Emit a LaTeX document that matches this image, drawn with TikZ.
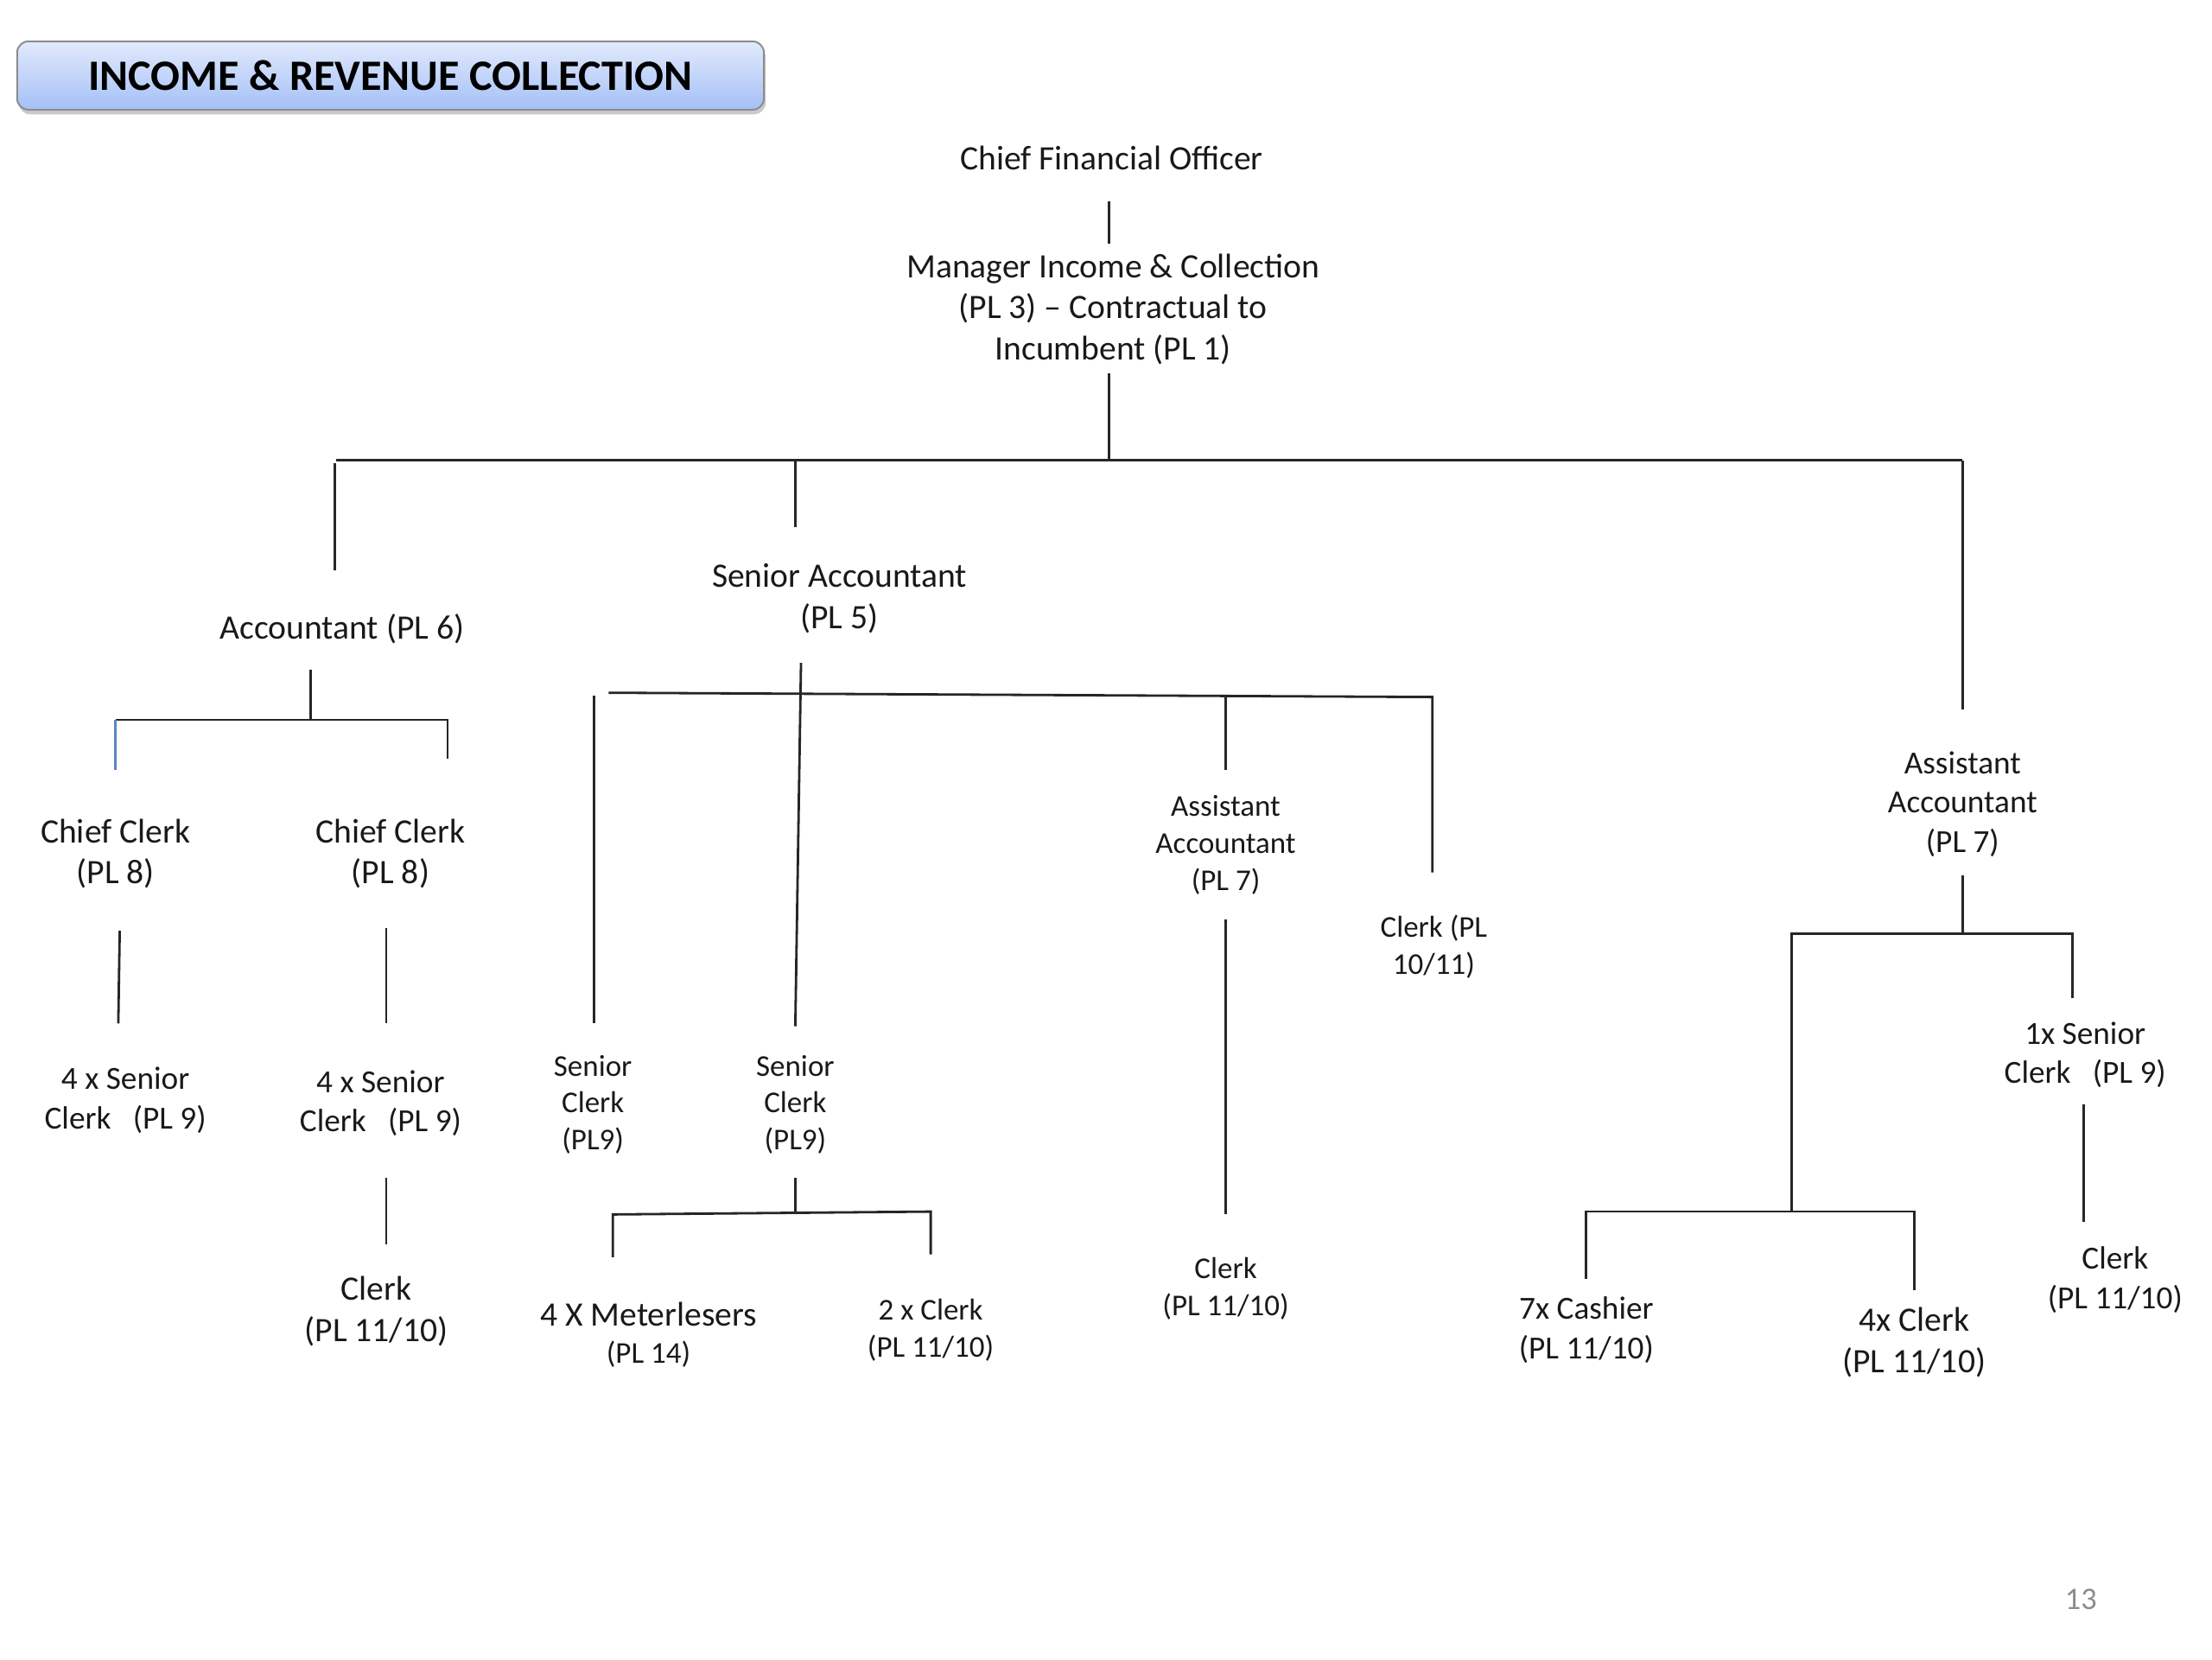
\documentclass[tikz,border=0pt]{standalone}
\usepackage{fontspec}
\setmainfont{Carlito}
\usetikzlibrary{shadows}
\definecolor{boxtop}{HTML}{E2EAFC}
\definecolor{boxbot}{HTML}{A4C0F7}
\definecolor{blueline}{HTML}{5B86C5}
\tikzset{
  lbl/.style={align=center, inner sep=0pt, text=black!90, font=\fontsize{12}{14.5}\selectfont},
  lblM/.style={lbl, font=\fontsize{11.3}{13.8}\selectfont},
  lblS/.style={lbl, font=\fontsize{10.6}{13}\selectfont},
  conn/.style={line width=0.85pt, draw=black!85},
  titlebox/.style={rounded corners=4pt, draw=black!45, line width=0.6pt,
    top color=boxtop, bottom color=boxbot, minimum width=262pt, minimum height=24pt,
    font=\fontsize{15.2}{18}\selectfont\bfseries, inner sep=0pt,
    drop shadow={shadow xshift=0.6pt, shadow yshift=-1.6pt, opacity=0.35, fill=black!60}},
}
\begin{document}
\begin{tikzpicture}[x=0.5pt,y=-0.5pt]
\useasboundingbox (0,0) rectangle (1552,1164);
% title
\node[titlebox] (title) at (274,53) {INCOME \& REVENUE COLLECTION};
% text nodes
\node[lbl] (cfo) at (780,111) {Chief Financial Officer};
\node[lbl] (mgr) at (781,217) {Manager Income \& Collection\\(PL 3) -- Contractual to\\Incumbent (PL 1)};
\node[lbl] (acc) at (240,441) {Accountant (PL 6)};
\node[lbl] (sacc) at (589,420) {Senior Accountant\\(PL 5)};
\node[lblM] (aaR) at (1377,564) {Assistant\\Accountant\\(PL 7)};
\node[lbl] (cc1) at (81,599) {Chief Clerk\\(PL 8)};
\node[lbl] (cc2) at (274,599) {Chief Clerk\\(PL 8)};
\node[lblM] (sc1) at (88,772) {4 x Senior\\Clerk\ \ \ (PL 9)};
\node[lblM] (sc2) at (267,774) {4 x Senior\\Clerk\ \ \ (PL 9)};
\node[lbl] (cl1) at (264,920) {Clerk\\(PL 11/10)};
\node[lblS] (sc3) at (416,775) {Senior\\Clerk\\(PL9)};
\node[lblS] (sc4) at (558,775) {Senior\\Clerk\\(PL9)};
\node[lblS] (aaM) at (860,593) {Assistant\\Accountant\\(PL 7)};
\node[lblS] (cl2) at (1006,664) {Clerk (PL\\10/11)};
\node[lbl] (met) at (455,922) {4 X Meterlesers};
\node[lblS] (metpl) at (455,950) {(PL 14)};
\node[lblS] (cl3) at (653,933) {2 x Clerk\\(PL 11/10)};
\node[lblS] (cl4) at (860,904) {Clerk\\(PL 11/10)};
\node[lblM] (sc5) at (1463,740) {1x Senior\\Clerk\ \ \ (PL 9)};
\node[lblM] (cl5) at (1484,898) {Clerk\\(PL 11/10)};
\node[lblM] (cash) at (1113,933) {7x Cashier\\(PL 11/10)};
\node[lbl] (cl6) at (1343,942) {4x Clerk\\(PL 11/10)};
\node[lbl, text=black!45, font=\fontsize{11}{13}\selectfont] (pg) at (1460,1122) {13};
% connector coordinates
\coordinate (a1) at (778,141); \coordinate (a2) at (778,171);
\coordinate (b1) at (778,262); \coordinate (b2) at (778,323);
\coordinate (hL) at (236,323); \coordinate (hR) at (1377,323);
\coordinate (hM) at (558,323);
\coordinate (accT) at (235,400); \coordinate (accT0) at (235,325);
\coordinate (saccT) at (558,370);
\coordinate (aaRT) at (1377,498);
% accountant subtree
\coordinate (d1) at (218,470); \coordinate (d2) at (218,505);
\coordinate (dL) at (81,505); \coordinate (dR) at (314,505);
\coordinate (dLb) at (81,540); \coordinate (dRb) at (314,532);
\coordinate (e1) at (84,653); \coordinate (e2) at (83,718);
\coordinate (f1) at (271,651); \coordinate (f2) at (271,718);
\coordinate (g1) at (271,826); \coordinate (g2) at (271,873);
% senior accountant subtree
\coordinate (s1) at (562,465); \coordinate (s2) at (558,720);
\coordinate (sL) at (427,486); \coordinate (sR) at (1005,489);
\coordinate (sA) at (860,489); \coordinate (sAb) at (860,540);
\coordinate (sRb) at (1005,612);
\coordinate (t1) at (417,488); \coordinate (t2) at (417,718);
\coordinate (u1) at (558,826); \coordinate (u2) at (558,851);
\coordinate (uL) at (430,852); \coordinate (uR) at (653,850);
\coordinate (uLb) at (430,882); \coordinate (uRb) at (653,880);
\coordinate (v1) at (860,645); \coordinate (v2) at (860,852);
% right subtree
\coordinate (r1) at (1377,614); \coordinate (r2) at (1377,655);
\coordinate (rL) at (1257,655); \coordinate (rR) at (1454,655);
\coordinate (rRb) at (1454,700); \coordinate (rLb) at (1257,850);
\coordinate (qL) at (1113,850); \coordinate (qR) at (1343,850);
\coordinate (qLb) at (1113,897); \coordinate (qRb) at (1343,905);
\coordinate (w1) at (1462,775); \coordinate (w2) at (1462,857);
% connectors
\draw[conn] (a1) -- (a2);
\draw[conn] (b1) -- (b2);
\draw[conn] (hL) -- (hR);
\draw[conn] (accT0) -- (accT);
\draw[conn] (hM) -- (saccT);
\draw[conn] (hR) -- (aaRT);
\draw[conn] (d1) -- (d2);
\draw[conn] (dL) -- (dR) -- (dRb);
\draw[line width=0.85pt, draw=blueline] (dL) -- (dLb);
\draw[conn] (e1) -- (e2);
\draw[conn] (f1) -- (f2);
\draw[conn] (g1) -- (g2);
\draw[conn] (s1) -- (s2);
\draw[conn] (sL) -- (sR) -- (sRb);
\draw[conn] (sA) -- (sAb);
\draw[conn] (t1) -- (t2);
\draw[conn] (u1) -- (u2);
\draw[conn] (uLb) -- (uL) -- (uR) -- (uRb);
\draw[conn] (v1) -- (v2);
\draw[conn] (r1) -- (r2);
\draw[conn] (rLb) -- (rL) -- (rR) -- (rRb);
\draw[conn] (qLb) -- (qL) -- (qR) -- (qRb);
\draw[conn] (w1) -- (w2);
\end{tikzpicture}
\end{document}
